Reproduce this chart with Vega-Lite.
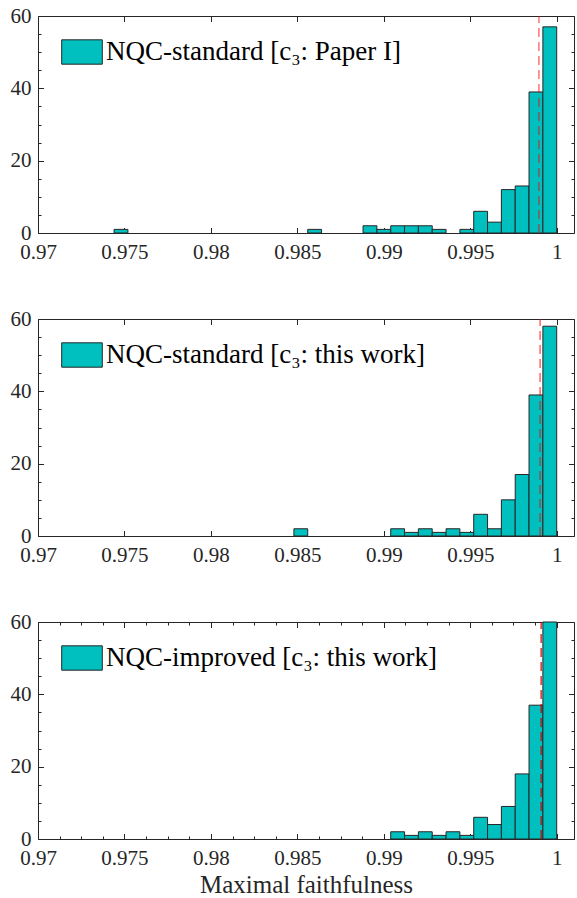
{
  "$schema": "https://vega.github.io/schema/vega-lite/v6.json",
  "padding": {"left": 9, "top": 4, "right": 2, "bottom": 2},
  "spacing": 44,
  "datasets": {
    "p1": [
      {"x0": 0.9744, "x1": 0.9752, "count": 1, "series": "NQC-standard [c₃: Paper I]"},
      {"x0": 0.9856, "x1": 0.9864, "count": 1, "series": "NQC-standard [c₃: Paper I]"},
      {"x0": 0.9888, "x1": 0.9896, "count": 2, "series": "NQC-standard [c₃: Paper I]"},
      {"x0": 0.9896, "x1": 0.9904, "count": 1, "series": "NQC-standard [c₃: Paper I]"},
      {"x0": 0.9904, "x1": 0.9912, "count": 2, "series": "NQC-standard [c₃: Paper I]"},
      {"x0": 0.9912, "x1": 0.992, "count": 2, "series": "NQC-standard [c₃: Paper I]"},
      {"x0": 0.992, "x1": 0.9928, "count": 2, "series": "NQC-standard [c₃: Paper I]"},
      {"x0": 0.9928, "x1": 0.9936, "count": 1, "series": "NQC-standard [c₃: Paper I]"},
      {"x0": 0.9944, "x1": 0.9952, "count": 1, "series": "NQC-standard [c₃: Paper I]"},
      {"x0": 0.9952, "x1": 0.996, "count": 6, "series": "NQC-standard [c₃: Paper I]"},
      {"x0": 0.996, "x1": 0.9968, "count": 3, "series": "NQC-standard [c₃: Paper I]"},
      {"x0": 0.9968, "x1": 0.9976, "count": 12, "series": "NQC-standard [c₃: Paper I]"},
      {"x0": 0.9976, "x1": 0.9984, "count": 13, "series": "NQC-standard [c₃: Paper I]"},
      {"x0": 0.9984, "x1": 0.9992, "count": 39, "series": "NQC-standard [c₃: Paper I]"},
      {"x0": 0.9992, "x1": 1.0, "count": 57, "series": "NQC-standard [c₃: Paper I]"}
    ],
    "p2": [
      {"x0": 0.9848, "x1": 0.9856, "count": 2, "series": "NQC-standard [c₃: this work]"},
      {"x0": 0.9904, "x1": 0.9912, "count": 2, "series": "NQC-standard [c₃: this work]"},
      {"x0": 0.9912, "x1": 0.992, "count": 1, "series": "NQC-standard [c₃: this work]"},
      {"x0": 0.992, "x1": 0.9928, "count": 2, "series": "NQC-standard [c₃: this work]"},
      {"x0": 0.9928, "x1": 0.9936, "count": 1, "series": "NQC-standard [c₃: this work]"},
      {"x0": 0.9936, "x1": 0.9944, "count": 2, "series": "NQC-standard [c₃: this work]"},
      {"x0": 0.9944, "x1": 0.9952, "count": 1, "series": "NQC-standard [c₃: this work]"},
      {"x0": 0.9952, "x1": 0.996, "count": 6, "series": "NQC-standard [c₃: this work]"},
      {"x0": 0.996, "x1": 0.9968, "count": 2, "series": "NQC-standard [c₃: this work]"},
      {"x0": 0.9968, "x1": 0.9976, "count": 10, "series": "NQC-standard [c₃: this work]"},
      {"x0": 0.9976, "x1": 0.9984, "count": 17, "series": "NQC-standard [c₃: this work]"},
      {"x0": 0.9984, "x1": 0.9992, "count": 39, "series": "NQC-standard [c₃: this work]"},
      {"x0": 0.9992, "x1": 1.0, "count": 58, "series": "NQC-standard [c₃: this work]"}
    ],
    "p3": [
      {"x0": 0.9904, "x1": 0.9912, "count": 2, "series": "NQC-improved [c₃: this work]"},
      {"x0": 0.9912, "x1": 0.992, "count": 1, "series": "NQC-improved [c₃: this work]"},
      {"x0": 0.992, "x1": 0.9928, "count": 2, "series": "NQC-improved [c₃: this work]"},
      {"x0": 0.9928, "x1": 0.9936, "count": 1, "series": "NQC-improved [c₃: this work]"},
      {"x0": 0.9936, "x1": 0.9944, "count": 2, "series": "NQC-improved [c₃: this work]"},
      {"x0": 0.9944, "x1": 0.9952, "count": 1, "series": "NQC-improved [c₃: this work]"},
      {"x0": 0.9952, "x1": 0.996, "count": 6, "series": "NQC-improved [c₃: this work]"},
      {"x0": 0.996, "x1": 0.9968, "count": 4, "series": "NQC-improved [c₃: this work]"},
      {"x0": 0.9968, "x1": 0.9976, "count": 9, "series": "NQC-improved [c₃: this work]"},
      {"x0": 0.9976, "x1": 0.9984, "count": 18, "series": "NQC-improved [c₃: this work]"},
      {"x0": 0.9984, "x1": 0.9992, "count": 37, "series": "NQC-improved [c₃: this work]"},
      {"x0": 0.9992, "x1": 1.0, "count": 60, "series": "NQC-improved [c₃: this work]"}
    ]
  },
  "vconcat": [
    {
      "width": 536, "height": 217,
      "data": {"name": "p1"},
      "layer": [
        {
          "mark": {"type": "bar", "stroke": "#262626", "strokeWidth": 1, "opacity": 1},
          "encoding": {
            "x": {"field": "x0", "type": "quantitative", "scale": {"domain": [0.97, 1.001], "nice": false, "zero": false},
              "axis": {"orient": "bottom", "title": null, "values": [0.97, 0.975, 0.98, 0.985, 0.99, 0.995, 1.0], "format": ".3~f", "labelFlush": false,
                "tickSize": {"condition": {"test": "abs(round(datum.value*200) - datum.value*200) < 0.01", "value": -5.5}, "value": -3}, "labelPadding": 14}},
            "x2": {"field": "x1"},
            "y": {"field": "count", "type": "quantitative", "scale": {"domain": [0, 60], "nice": false},
              "axis": {"orient": "left", "title": null, "values": [0, 5, 10, 15, 20, 25, 30, 35, 40, 45, 50, 55, 60],
                "labelExpr": "datum.value % 20 === 0 ? datum.label : ''",
                "tickSize": {"condition": {"test": "datum.value % 20 === 0", "value": -5.5}, "value": -3}, "labelPadding": 12.5}},
            "y2": {"datum": 0},
            "color": {"field": "series", "type": "nominal", "scale": {"range": ["#00BFBF"]},
              "legend": {"title": null, "orient": "none", "legendX": 23, "legendY": 15, "symbolType": "M-1,-0.6H1V0.6H-1Z", "symbolSize": 1648, "symbolStrokeColor": "#262626", "symbolStrokeWidth": 1, "symbolOpacity": 1, "labelFont": "Liberation Serif", "labelFontSize": 27, "labelColor": "#000000", "labelOffset": 3, "labelLimit": 0, "padding": 0}}
          }
        },
        {
          "data": {"values": [{"thr": 0.99897}]},
          "mark": {"type": "rule", "color": "#FF0000", "strokeDash": [9, 5], "strokeWidth": 1.5, "opacity": 0.55},
          "encoding": {
            "x": {"field": "thr", "type": "quantitative",
              "axis": {"orient": "top", "title": null, "labels": false, "values": [0.97, 0.975, 0.98, 0.985, 0.99, 0.995, 1.0],
                "tickSize": {"condition": {"test": "abs(round(datum.value*200) - datum.value*200) < 0.01", "value": -5.5}, "value": -3}}},
            "y": {"datum": 0, "type": "quantitative",
              "axis": {"orient": "right", "title": null, "labels": false, "values": [0, 5, 10, 15, 20, 25, 30, 35, 40, 45, 50, 55, 60],
                "tickSize": {"condition": {"test": "datum.value % 20 === 0", "value": -5.5}, "value": -3}}},
            "y2": {"datum": 60}
          }
        }
      ],
      "resolve": {"axis": {"x": "independent", "y": "independent"}}
    },
    {
      "width": 536, "height": 217,
      "data": {"name": "p2"},
      "layer": [
        {
          "mark": {"type": "bar", "stroke": "#262626", "strokeWidth": 1, "opacity": 1},
          "encoding": {
            "x": {"field": "x0", "type": "quantitative", "scale": {"domain": [0.97, 1.001], "nice": false, "zero": false},
              "axis": {"orient": "bottom", "title": null, "values": [0.97, 0.975, 0.98, 0.985, 0.99, 0.995, 1.0], "format": ".3~f", "labelFlush": false,
                "tickSize": {"condition": {"test": "abs(round(datum.value*200) - datum.value*200) < 0.01", "value": -5.5}, "value": -3}, "labelPadding": 14}},
            "x2": {"field": "x1"},
            "y": {"field": "count", "type": "quantitative", "scale": {"domain": [0, 60], "nice": false},
              "axis": {"orient": "left", "title": null, "values": [0, 5, 10, 15, 20, 25, 30, 35, 40, 45, 50, 55, 60],
                "labelExpr": "datum.value % 20 === 0 ? datum.label : ''",
                "tickSize": {"condition": {"test": "datum.value % 20 === 0", "value": -5.5}, "value": -3}, "labelPadding": 12.5}},
            "y2": {"datum": 0},
            "color": {"field": "series", "type": "nominal", "scale": {"range": ["#00BFBF"]},
              "legend": {"title": null, "orient": "none", "legendX": 23, "legendY": 15, "symbolType": "M-1,-0.6H1V0.6H-1Z", "symbolSize": 1648, "symbolStrokeColor": "#262626", "symbolStrokeWidth": 1, "symbolOpacity": 1, "labelFont": "Liberation Serif", "labelFontSize": 27, "labelColor": "#000000", "labelOffset": 3, "labelLimit": 0, "padding": 0}}
          }
        },
        {
          "data": {"values": [{"thr": 0.99904}]},
          "mark": {"type": "rule", "color": "#FF0000", "strokeDash": [9, 5], "strokeWidth": 1.5, "opacity": 0.6},
          "encoding": {
            "x": {"field": "thr", "type": "quantitative",
              "axis": {"orient": "top", "title": null, "labels": false, "values": [0.97, 0.975, 0.98, 0.985, 0.99, 0.995, 1.0],
                "tickSize": {"condition": {"test": "abs(round(datum.value*200) - datum.value*200) < 0.01", "value": -5.5}, "value": -3}}},
            "y": {"datum": 0, "type": "quantitative",
              "axis": {"orient": "right", "title": null, "labels": false, "values": [0, 5, 10, 15, 20, 25, 30, 35, 40, 45, 50, 55, 60],
                "tickSize": {"condition": {"test": "datum.value % 20 === 0", "value": -5.5}, "value": -3}}},
            "y2": {"datum": 60}
          }
        }
      ],
      "resolve": {"axis": {"x": "independent", "y": "independent"}}
    },
    {
      "width": 536, "height": 217,
      "data": {"name": "p3"},
      "layer": [
        {
          "mark": {"type": "bar", "stroke": "#262626", "strokeWidth": 1, "opacity": 1},
          "encoding": {
            "x": {"field": "x0", "type": "quantitative", "scale": {"domain": [0.97, 1.001], "nice": false, "zero": false},
              "axis": {"orient": "bottom", "title": "Maximal faithfulness", "titlePadding": 4, "labelFlush": false,
                "values": [0.97, 0.97125, 0.9725, 0.97375, 0.975, 0.97625, 0.9775, 0.97875, 0.98, 0.98125, 0.9825, 0.98375, 0.985, 0.98625, 0.9875, 0.98875, 0.99, 0.99125, 0.9925, 0.99375, 0.995, 0.99625, 0.9975, 0.99875, 1.0],
                "labelExpr": "abs(round(datum.value*200) - datum.value*200) < 0.01 ? format(datum.value, '.3~f') : ''",
                "tickSize": {"condition": {"test": "abs(round(datum.value*200) - datum.value*200) < 0.01", "value": -5.5}, "value": -3}, "labelPadding": 14}},
            "x2": {"field": "x1"},
            "y": {"field": "count", "type": "quantitative", "scale": {"domain": [0, 60], "nice": false},
              "axis": {"orient": "left", "title": null, "values": [0, 5, 10, 15, 20, 25, 30, 35, 40, 45, 50, 55, 60],
                "labelExpr": "datum.value % 20 === 0 ? datum.label : ''",
                "tickSize": {"condition": {"test": "datum.value % 20 === 0", "value": -5.5}, "value": -3}, "labelPadding": 12.5}},
            "y2": {"datum": 0},
            "color": {"field": "series", "type": "nominal", "scale": {"range": ["#00BFBF"]},
              "legend": {"title": null, "orient": "none", "legendX": 23, "legendY": 15, "symbolType": "M-1,-0.6H1V0.6H-1Z", "symbolSize": 1648, "symbolStrokeColor": "#262626", "symbolStrokeWidth": 1, "symbolOpacity": 1, "labelFont": "Liberation Serif", "labelFontSize": 27, "labelColor": "#000000", "labelOffset": 3, "labelLimit": 0, "padding": 0}}
          }
        },
        {
          "data": {"values": [{"thr": 0.9991}]},
          "mark": {"type": "rule", "color": "#D00000", "strokeDash": [9, 5], "strokeWidth": 1.5, "opacity": 0.8},
          "encoding": {
            "x": {"field": "thr", "type": "quantitative",
              "axis": {"orient": "top", "title": null, "labels": false,
                "values": [0.97, 0.97125, 0.9725, 0.97375, 0.975, 0.97625, 0.9775, 0.97875, 0.98, 0.98125, 0.9825, 0.98375, 0.985, 0.98625, 0.9875, 0.98875, 0.99, 0.99125, 0.9925, 0.99375, 0.995, 0.99625, 0.9975, 0.99875, 1.0],
                "tickSize": {"condition": {"test": "abs(round(datum.value*200) - datum.value*200) < 0.01", "value": -5.5}, "value": -3}}},
            "y": {"datum": 0, "type": "quantitative",
              "axis": {"orient": "right", "title": null, "labels": false, "values": [0, 5, 10, 15, 20, 25, 30, 35, 40, 45, 50, 55, 60],
                "tickSize": {"condition": {"test": "datum.value % 20 === 0", "value": -5.5}, "value": -3}}},
            "y2": {"datum": 60}
          }
        }
      ],
      "resolve": {"axis": {"x": "independent", "y": "independent"}}
    }
  ],
  "resolve": {"scale": {"color": "independent"}, "legend": {"color": "independent"}},
  "config": {
    "view": {"stroke": "#262626", "strokeWidth": 1},
    "axis": {"domain": false, "grid": false, "labelFont": "Liberation Serif", "labelFontSize": 21, "labelColor": "#262626",
      "tickColor": "#262626", "tickWidth": 1, "titleFont": "Liberation Serif", "titleFontSize": 25, "titleFontWeight": "normal", "titleColor": "#262626"}
  }
}
